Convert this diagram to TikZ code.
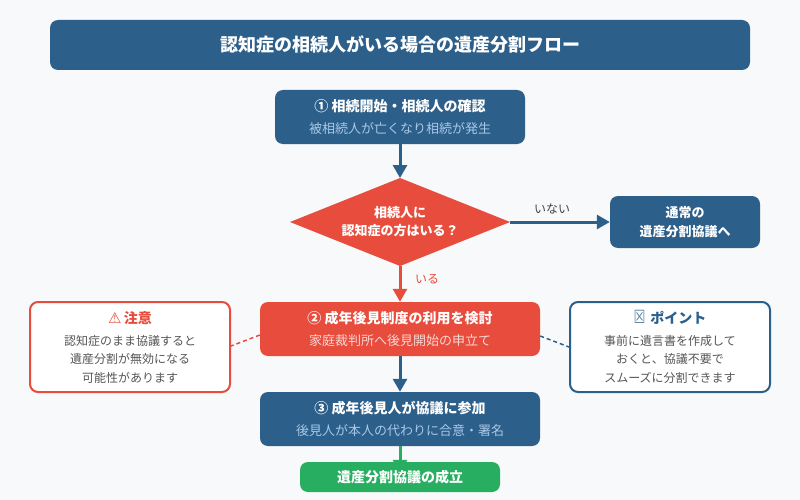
\documentclass[tikz,border=0pt]{standalone}
\usepackage{fontspec}
\usepackage{graphicx}
\setmainfont{Noto Sans CJK JP}
\newfontfamily\dejavu{DejaVu Sans}
\usetikzlibrary{arrows.meta}
\definecolor{bg}{HTML}{F8F9FA}
\definecolor{navy}{HTML}{2C5F8A}
\definecolor{red1}{HTML}{E74C3C}
\definecolor{green1}{HTML}{27AE60}
\definecolor{sub}{HTML}{A8C8E8}
\definecolor{subr}{HTML}{FAD7D3}
\definecolor{bodyc}{HTML}{555555}
\definecolor{lab}{HTML}{444444}
\tikzset{
 x=1pt,y=-1pt,
 box/.style={rounded corners=8pt,minimum width=#1,inner sep=0pt,align=center,text=white,font=\fontsize{14}{19}\selectfont},
 navybox/.style={box=#1,fill=navy},
 notebox/.style={rounded corners=8pt,minimum width=200pt,minimum height=90pt,inner sep=0pt,align=center,fill=white,line width=2pt,font=\fontsize{12}{18.5}\selectfont,text=bodyc},
 arr/.style={line width=3pt,-{Triangle[length=13pt,width=14pt]}},
 dash link/.style={line width=1.5pt,dash pattern=on 4pt off 3pt},
}
\newcommand{\subt}[2]{{\fontsize{13}{19}\selectfont\color{#1}#2}}
\newcommand{\headt}[1]{{\fontsize{14}{19}\selectfont #1}}
\begin{document}
\begin{tikzpicture}
\useasboundingbox (0,0) rectangle (800,500);
\fill[bg] (0,0) rectangle (800,500);
\node[navybox=700pt,minimum height=50pt,font=\fontsize{18}{22}\selectfont\bfseries] (title) at (400,45) {認知症の相続人がいる場合の遺産分割フロー};
\node[navybox=250pt,minimum height=54pt] (b1) at (400,117) {\textbf{① 相続開始・相続人の確認}\\[3pt]\subt{sub}{被相続人が亡くなり相続が発生}};
\path[fill=red1] (400,178) coordinate (dt) -- (510,222) coordinate (dr) -- (400,266) coordinate (db) -- (290,222) coordinate (dl) -- cycle;
\node[align=center,text=white,inner sep=0pt,font=\fontsize{13}{18}\selectfont\bfseries] (q) at (400,222) {相続人に\\認知症の方はいる？};
\node[navybox=150pt,minimum height=52pt,font=\fontsize{13}{19}\selectfont\bfseries] (n) at (685,222) {通常の\\遺産分割協議へ};
\node[box=280pt,fill=red1,minimum height=54pt] (b2) at (400,329) {\textbf{② 成年後見制度の利用を検討}\\[3pt]\subt{subr}{家庭裁判所へ後見開始の申立て}};
\node[navybox=280pt,minimum height=54pt] (b3) at (400,419) {\textbf{③ 成年後見人が協議に参加}\\[3pt]\subt{sub}{後見人が本人の代わりに合意・署名}};
\node[box=200pt,fill=green1,minimum height=30pt,font=\fontsize{14}{19}\selectfont\bfseries] (g) at (400,477) {遺産分割協議の成立};
\node[notebox,draw=red1] (wn) at (130,347) {\headt{\color{red1}{\fontsize{15}{19}\dejavu ⚠}\,\textbf{注意}}\\[3.5pt]認知症のまま協議すると\\遺産分割が無効になる\\可能性があります};
\node[notebox,draw=navy] (pt) at (670,347) {\headt{\color{navy}\raisebox{-0.5pt}{\scalebox{0.95}[1.3]{\color{navy!75}\dejavu ☒}}\,\,\textbf{ポイント}}\\[3.5pt]事前に遺言書を作成して\\おくと、協議不要で\\スムーズに分割できます};
\draw[arr,navy] (b1) -- (dt);
\draw[arr,navy] (dr) -- (n.west);
\draw[arr,red1] (db) -- (b2);
\draw[arr,navy] (b2) -- (b3);
\draw[arr,green1,shorten >=-11pt] (b3) -- (g);
\draw[dash link,red1] (b2.west) ++(0,6) coordinate (c1) (c1) -- (wn.east |- 0,346);
\draw[dash link,navy] (b2.east) ++(0,7) coordinate (c2) (c2) -- (pt.west |- 0,347);
\node[text=lab,font=\fontsize{12}{14}\selectfont,inner sep=0pt] (l1) at (552,209) {いない};
\node[text=red1,font=\fontsize{12}{14}\selectfont,inner sep=0pt] (l2) at (427,279) {いる};
\end{tikzpicture}
\end{document}
